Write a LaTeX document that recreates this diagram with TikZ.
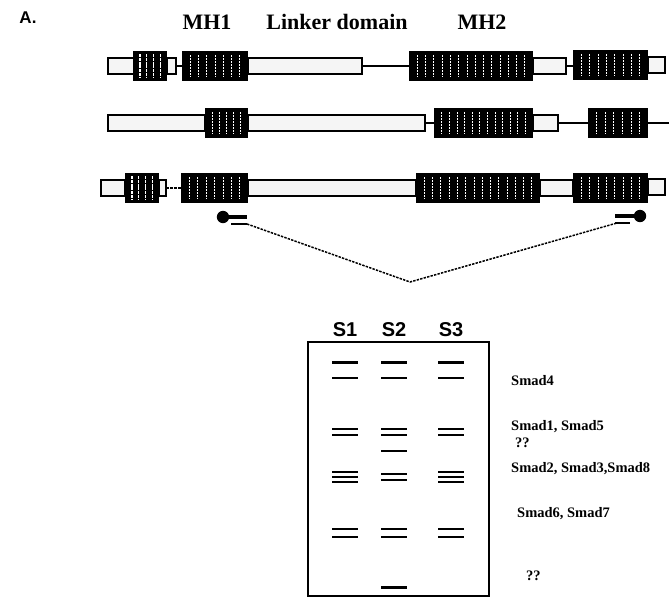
\documentclass[tikz,border=0pt]{standalone}
\usepackage{fontspec}
\setmainfont{Liberation Serif}
\setsansfont{Liberation Sans}
\begin{document}
\begin{tikzpicture}[x=1pt,y=-1pt,
  pale/.style={draw=black, line width=1.8pt, fill=gray!8},
  linkline/.style={line width=1.2pt},
  texture/.style={white, line width=0.7pt, dash pattern=on 1.6pt off 1.4pt},
  stripe/.style={white, line width=1.4pt, dash pattern=on 3pt off 0.8pt},
  band/.style={line width=2.2pt},
  thickband/.style={line width=3pt},
  tripleband/.style={line width=1.8pt},
  toplab/.style={font=\bfseries\fontsize{22}{24}\selectfont, inner sep=0pt},
  lanelab/.style={font=\sffamily\bfseries\fontsize{20}{22}\selectfont, inner sep=0pt},
  gellab/.style={font=\bfseries\fontsize{14.5}{16}\selectfont, inner sep=0pt, anchor=base west},
  primer/.style={line width=3.4pt},
  primerthin/.style={line width=1.8pt},
  guide/.style={line width=1.5pt, dash pattern=on 2.4pt off 1.2pt}
]
\useasboundingbox (0,0) rectangle (669,597);

% helper macros
\newcommand\palebox[3]{\draw[pale] (#1,#3-8) rectangle (#2,#3+8);}
\newcommand\darkbox[4]{%
  \fill[black] (#1,#3-15) rectangle (#2,#3+15);
  \foreach \i in {1,...,#4}{\draw[texture] ({#1+(#2-#1)*\i/(#4+1)},#3-11) -- ++(0,22);}}
\newcommand\stripebox[3]{%
  \fill[black] (#1,#3-15) rectangle (#2,#3+15);
  \foreach \i in {1,...,4}{\draw[stripe] ({#1+(#2-#1)*\i/5},#3-12) -- ++(0,24);}}
\newcommand\linkseg[3]{\draw[linkline] (#1,#3) -- (#2,#3);}

% title and domain labels
\node[font=\sffamily\bfseries\fontsize{17}{19}\selectfont, inner sep=0pt] (lblA) at (28,18) {A.};
\node[toplab] (mh1) at (207,22) {MH1};
\node[toplab] (lnk) at (337,22) {Linker domain};
\node[toplab] (mh2) at (482,22) {MH2};

% row 1
\linkseg{176}{182}{66}
\linkseg{362}{409}{66}
\linkseg{566}{573}{66}
\palebox{108}{134}{66}
\palebox{167}{176}{66}
\stripebox{133}{167}{66}
\palebox{248}{362}{66}
\darkbox{182}{248}{66}{7}
\palebox{533}{566}{66}
\darkbox{409}{533}{66}{14}
\palebox{648}{665}{65}
\darkbox{573}{648}{65}{8}

% row 2
\linkseg{425}{434}{123}
\linkseg{558}{588}{123}
\linkseg{648}{669}{123}
\palebox{108}{205}{123}
\palebox{248}{425}{123}
\darkbox{205}{248}{123}{5}
\palebox{533}{558}{123}
\darkbox{434}{533}{123}{12}
\darkbox{588}{648}{123}{6}

% row 3
\draw[linkline, dash pattern=on 3pt off 1pt] (166,188) -- (181,188);
\palebox{101}{125}{188}
\palebox{159}{166}{188}
\stripebox{125}{159}{188}
\palebox{248}{416}{188}
\darkbox{181}{248}{188}{7}
\palebox{540}{573}{188}
\darkbox{416}{540}{188}{14}
\palebox{648}{665}{187}
\darkbox{573}{648}{188}{8}

% primers and guide lines
\coordinate (pLt) at (247,224);
\coordinate (apex) at (410,282);
\coordinate (pRt) at (617,223);
\fill (223,217) circle (6.2pt);
\draw[primer] (223,217) -- (247,217);
\draw[primerthin] (231,224) -- (pLt);
\fill (640,216) circle (6.2pt);
\draw[primer] (615,216) -- (640,216);
\draw[primerthin] (615,223) -- (630,223);
\draw[guide] (pLt) -- (apex) -- (pRt);

% gel
\draw[line width=1.7pt] (308,342) rectangle (489,596);
\node[lanelab] (s1) at (345,330) {S1};
\node[lanelab] (s2) at (394,330) {S2};
\node[lanelab] (s3) at (451,330) {S3};

\foreach \xc in {345,394,451}{
  \draw[thickband] (\xc-13,362) -- (\xc+13,362);
  \draw[band] (\xc-13,378) -- (\xc+13,378);
  \draw[band] (\xc-13,429) -- (\xc+13,429);
  \draw[band] (\xc-13,435) -- (\xc+13,435);
  \draw[band] (\xc-13,529) -- (\xc+13,529);
  \draw[band] (\xc-13,537) -- (\xc+13,537);
}
\foreach \xc in {345,451}{
  \foreach \yy in {472,477,482}{\draw[tripleband] (\xc-13,\yy) -- (\xc+13,\yy);}
}
\draw[band] (381,451) -- (407,451);
\draw[band] (381,474) -- (407,474);
\draw[band] (381,480) -- (407,480);
\draw[thickband] (381,587) -- (407,587);

% gel labels
\node[gellab] (g1) at (511,385) {Smad4};
\node[gellab] (g2) at (511,430) {Smad1, Smad5};
\node[gellab] (g3) at (515,447) {??};
\node[gellab] (g4) at (511,472) {Smad2, Smad3,Smad8};
\node[gellab] (g5) at (517,517) {Smad6, Smad7};
\node[gellab] (g6) at (526,580) {??};
\end{tikzpicture}
\end{document}
